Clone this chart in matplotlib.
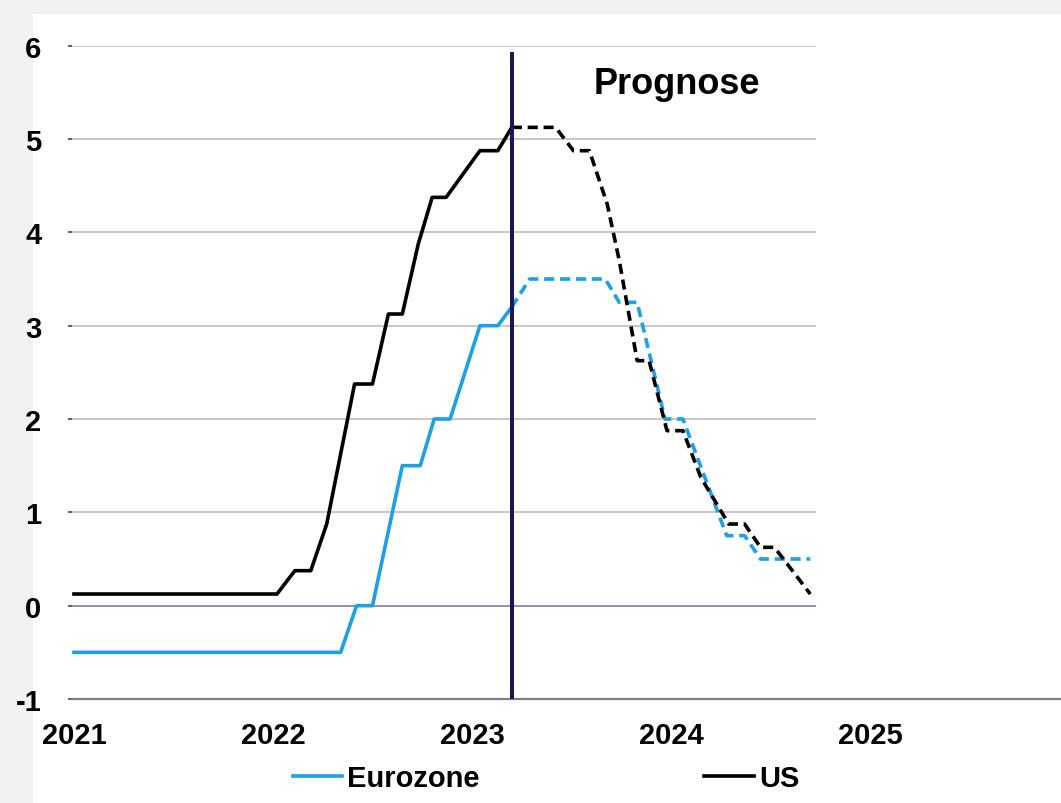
import matplotlib.pyplot as plt
from matplotlib.patches import Rectangle

plt.rcParams['font.family'] = ['Liberation Sans', 'DejaVu Sans']
plt.rcParams['font.weight'] = 'bold'
plt.rcParams['axes.unicode_minus'] = False

# Leitzins in %, x als Dezimaljahr
us_hist_x = [2021.00, 2022.02, 2022.11, 2022.19, 2022.27, 2022.41, 2022.50, 2022.58,
             2022.65, 2022.73, 2022.80, 2022.87, 2023.04, 2023.13, 2023.20]
us_hist_y = [0.125, 0.125, 0.375, 0.375, 0.875, 2.375, 2.375, 3.125,
             3.125, 3.875, 4.375, 4.375, 4.875, 4.875, 5.125]

us_fc_x = [2023.20, 2023.42, 2023.51, 2023.59, 2023.68, 2023.74, 2023.83, 2023.89,
           2023.98, 2024.06, 2024.15, 2024.29, 2024.37, 2024.45, 2024.52, 2024.70]
us_fc_y = [5.125, 5.125, 4.875, 4.875, 4.3, 3.7, 2.625, 2.625,
           1.875, 1.875, 1.375, 0.875, 0.875, 0.625, 0.625, 0.125]

ez_hist_x = [2021.00, 2022.34, 2022.42, 2022.50, 2022.65, 2022.74, 2022.81, 2022.89,
             2023.04, 2023.13, 2023.20]
ez_hist_y = [-0.5, -0.5, 0.0, 0.0, 1.5, 1.5, 2.0, 2.0, 3.0, 3.0, 3.2]

ez_fc_x = [2023.20, 2023.29, 2023.67, 2023.74, 2023.83, 2023.97, 2024.06, 2024.28,
           2024.37, 2024.45, 2024.70]
ez_fc_y = [3.2, 3.5, 3.5, 3.25, 3.25, 2.0, 2.0, 0.75, 0.75, 0.5, 0.5]

prognose_start = 2023.20
years = [2021, 2022, 2023, 2024, 2025]
y_ticks = [-1, 0, 1, 2, 3, 4, 5, 6]

blue = '#1f9fe4'
navy = '#141a52'
dash = (0, (2.8, 1.6))
lw = 2.6

fig = plt.figure(figsize=(10.61, 8.04), dpi=100, facecolor='#f2f2f2')
fig.patches.append(Rectangle((33 / 1061, 0), 1, 1 - 15 / 804, transform=fig.transFigure,
                             facecolor='white', edgecolor='none', zorder=-10))

ax = fig.add_axes([72 / 1061, 104 / 804, 989 / 1061, 653.3 / 804])
ax.set_facecolor('none')

# Gitterlinien enden vor dem rechten Rand
grid_end = 2024.73
for v in y_ticks[2:]:
    ax.hlines(v, 2020.99, grid_end, color='#c4c4c4', lw=1.3, zorder=1)
ax.hlines(0, 2020.99, grid_end, color='#7b7fa3', lw=1.2, zorder=1)

ax.plot(ez_hist_x, ez_hist_y, color=blue, lw=lw, label='Eurozone', zorder=3)
ax.plot(ez_fc_x, ez_fc_y, color=blue, lw=lw, linestyle=dash, zorder=3)
ax.plot(us_hist_x, us_hist_y, color='black', lw=lw, label='US', zorder=4)
ax.plot(us_fc_x, us_fc_y, color='black', lw=lw, linestyle=dash, zorder=4)

ax.vlines(prognose_start, -1, 5.93, color=navy, lw=2.9, zorder=5)
ax.text(2023.61, 5.59, 'Prognose', fontsize=26, fontweight='bold', ha='left', va='center')

ax.set_xlim(2020.99, 2025.96)
ax.set_ylim(-1, 6)
ax.set_xticks(years)
ax.set_yticks(y_ticks)
ax.tick_params(axis='x', length=0, pad=16, labelsize=21)
ax.tick_params(axis='y', length=3, width=1.2, color='#444444', pad=19, labelsize=21)

for s in ['left', 'top', 'right']:
    ax.spines[s].set_visible(False)
ax.spines['bottom'].set_color('#808080')
ax.spines['bottom'].set_linewidth(1.6)

fig.legend(loc='center', bbox_to_anchor=(546 / 1061, 25 / 804), ncol=2, frameon=False,
           fontsize=21, handlelength=1.7, handletextpad=0.17, columnspacing=7.7)

fig.savefig('out.png', dpi=100, facecolor=fig.get_facecolor())
